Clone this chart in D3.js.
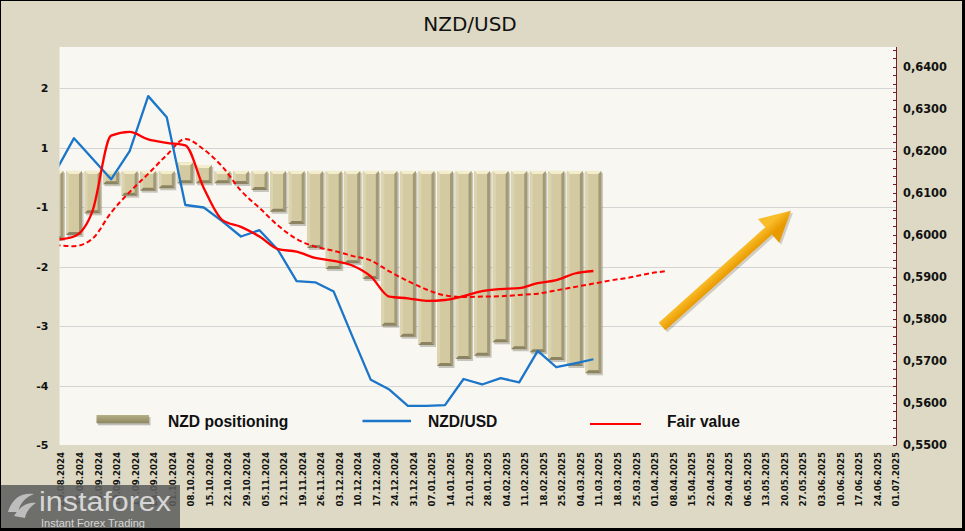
<!DOCTYPE html>
<html>
<head>
<meta charset="utf-8">
<script src="https://cdn.jsdelivr.net/npm/d3@7"></script>
<style>
  html, body { margin: 0; padding: 0; background: #DDD9C4; }
  svg { display: block; }
</style>
</head>
<body>
<svg id="chart" width="965" height="531"></svg>
<script>
// ---------------- DATA ----------------
const dates = [
  "20.08.2024","27.08.2024","03.09.2024","10.09.2024","17.09.2024","24.09.2024","01.10.2024",
  "08.10.2024","15.10.2024","22.10.2024","29.10.2024","05.11.2024","12.11.2024","19.11.2024",
  "26.11.2024","03.12.2024","10.12.2024","17.12.2024","24.12.2024","31.12.2024","07.01.2025",
  "14.01.2025","21.01.2025","28.01.2025","04.02.2025","11.02.2025","18.02.2025","25.02.2025",
  "04.03.2025","11.03.2025","18.03.2025","25.03.2025","01.04.2025","08.04.2025","15.04.2025",
  "22.04.2025","29.04.2025","06.05.2025","13.05.2025","20.05.2025","27.05.2025","03.06.2025",
  "10.06.2025","17.06.2025","24.06.2025","01.07.2025"
];

// NZD positioning bars (left axis): bottom and top of each bar
const positioningLow = [-1.035,-0.968,-0.603,-0.113,-0.307,-0.222,-0.182,-0.098,-0.098,-0.098,
  -0.110,-0.210,-0.576,-0.783,-1.186,-1.540,-1.444,-1.708,-2.493,-2.678,
  -2.818,-3.171,-3.053,-2.998,-2.773,-2.890,-2.940,-3.070,-3.171,-3.294];
const positioningHigh = [0.11,0.11,0.11,0.11,0.11,0.11,0.11,0.257,0.21,0.11,
  0.11,0.11,0.11,0.11,0.11,0.11,0.11,0.11,0.11,0.11,
  0.11,0.11,0.11,0.11,0.11,0.11,0.11,0.11,0.11,0.11];

// NZD/USD (right axis)
const nzdusd = [0.6150,0.6230,0.6181,0.6132,0.6199,0.6330,0.6280,0.6071,0.6065,0.6032,
  0.5996,0.6011,0.5964,0.5890,0.5887,0.5865,0.5759,0.5655,0.5632,0.5593,
  0.5593,0.5595,0.5657,0.5644,0.5659,0.5649,0.5724,0.5685,0.5694,0.5704];

// Fair value (right axis)
const fairValue = [0.5988,0.5996,0.6057,0.6236,0.6245,0.6227,0.6219,0.6213,0.6111,0.6035,
  0.6019,0.5996,0.5966,0.5960,0.5945,0.5938,0.5927,0.5901,0.5853,0.5849,
  0.5843,0.5845,0.5854,0.5866,0.5871,0.5873,0.5885,0.5892,0.5908,0.5914];

// Fair value trend, dashed (right axis)
const fairTrend = [0.5976,0.5973,0.5991,0.6053,0.6102,0.6145,0.6190,0.6228,0.6203,0.6162,
  0.6105,0.6064,0.6022,0.5990,0.5972,0.5962,0.5950,0.5939,0.5913,0.5890,
  0.5870,0.5856,0.5852,0.5853,0.5854,0.5857,0.5860,0.5868,0.5876,0.5884,
  0.5892,0.5899,0.5908,0.5914];

const leftTickValues = [1.5, 0.5, -0.5, -1.5, -2.5, -3.5, -4.5];
const leftTickLabels = ["2","1","-1","-2","-3","-4","-5"];
const rightTickValues = [0.55,0.56,0.57,0.58,0.59,0.60,0.61,0.62,0.63,0.64];
const barBase = 0.11;

// arrow annotation in (category position, right-axis value)
const arrowFrom = {pos: 32.7, val: 0.5782};
const arrowTo   = {pos: 39.65, val: 0.6057};

// ---------------- LAYOUT ----------------
const W = 965, H = 531;
const plot = {left: 59.5, right: 896, top: 47, bottom: 445};

const svg = d3.select("#chart");
const defs = svg.append("defs");

// background
svg.append("rect").attr("x",0).attr("y",0).attr("width",W).attr("height",H).attr("fill","#DDD9C4");

// scales
const x = d3.scaleBand().domain(dates).range([46.18, 46.18 + 18.55*dates.length])
  .paddingInner(0.1375).paddingOuter(0.1375/2);
const xc = d => x(d) + x.bandwidth()/2;
const yL = d3.scaleLinear().domain([-4.5, 1.5]).range([445, 88.3]);
const yR = d3.scaleLinear().domain([0.55, 0.64]).range([445, 66.7]);

// plot area
svg.append("rect").attr("x",plot.left).attr("y",plot.top)
  .attr("width",plot.right-plot.left).attr("height",plot.bottom-plot.top).attr("fill","#F8F7F2");

defs.append("clipPath").attr("id","plotClip").append("rect")
  .attr("x",plot.left).attr("y",plot.top).attr("width",plot.right-plot.left).attr("height",plot.bottom-plot.top);

// gridlines (left axis)
svg.append("g").selectAll("line").data(leftTickValues.slice(0,-1)).join("line")
  .attr("x1",plot.left).attr("x2",plot.right)
  .attr("y1",d=>Math.round(yL(d))+0.5).attr("y2",d=>Math.round(yL(d))+0.5)
  .attr("stroke","#D4D4D4").attr("stroke-width",1);

// title
svg.append("text").attr("x",470).attr("y",31).attr("text-anchor","middle")
  .attr("font-family","DejaVu Sans, Verdana, sans-serif").attr("font-size",20).attr("fill","#111")
  .text("NZD/USD");

// left axis labels
svg.append("g").selectAll("text").data(leftTickValues).join("text")
  .attr("x",48.5).attr("y",d=>yL(d)).attr("dy","0.36em").attr("text-anchor","end")
  .attr("font-family","DejaVu Sans, Verdana, sans-serif").attr("font-weight","bold").attr("font-size",11)
  .attr("fill","#111").text((d,i)=>leftTickLabels[i]);

// right axis
const rAxis = svg.append("g");
rAxis.append("line").attr("x1",plot.right+0.5).attr("x2",plot.right+0.5)
  .attr("y1",plot.top).attr("y2",plot.bottom).attr("stroke","#7A1F1F").attr("stroke-width",1);
const minorTicks = d3.range(0, 48).map(k => 0.55 + k*0.002).filter(v => yR(v) >= plot.top - 0.5);
rAxis.selectAll("line.tk").data(minorTicks).join("line").attr("class","tk")
  .attr("x1",plot.right-3).attr("x2",plot.right+0.5)
  .attr("y1",d=>Math.round(yR(d))+0.5).attr("y2",d=>Math.round(yR(d))+0.5)
  .attr("stroke","#7A1F1F").attr("stroke-width",1);
rAxis.selectAll("text").data(rightTickValues).join("text")
  .attr("x",903).attr("y",d=>yR(d)).attr("dy","0.36em")
  .attr("font-family","DejaVu Sans, Verdana, sans-serif").attr("font-weight","bold").attr("font-size",11.4)
  .attr("fill","#111").text(d=>d3.format(".4f")(d).replace(".",","));

// x axis labels
svg.append("g").selectAll("text").data(dates).join("text")
  .attr("transform",d=>`translate(${xc(d)+6},452) rotate(-90)`)
  .attr("dy","0.35em").attr("text-anchor","end")
  .attr("font-family","DejaVu Sans, Verdana, sans-serif").attr("font-weight","bold").attr("font-size",8.6)
  .attr("fill","#111").text(d=>d);

// ---------------- BARS ----------------
const gPlot = svg.append("g").attr("clip-path","url(#plotClip)");
const bw = x.bandwidth();
const barData = positioningLow.map((v,i)=>({d:dates[i], low:v, high:positioningHigh[i]}));
const bevel = 3;
const gBars = gPlot.append("g");
barData.forEach(b=>{
  const x0 = x(b.d), x1 = x0 + bw;
  const y0 = yL(Math.max(b.high, barBase)), y1 = yL(b.low);
  const g = gBars.append("g");
  g.append("rect").attr("x",x0+1.5).attr("y",y0+2).attr("width",bw).attr("height",y1-y0)
    .attr("fill","rgba(70,65,45,0.28)");
  g.append("rect").attr("x",x0).attr("y",y0).attr("width",bw).attr("height",y1-y0).attr("fill","#D3CAA2");
  const poly = (pts, fill) => g.append("polygon").attr("points",pts.map(p=>p.join(",")).join(" ")).attr("fill",fill);
  poly([[x0,y0],[x1,y0],[x1-bevel,y0+bevel],[x0+bevel,y0+bevel]], "#F3EDCC");
  poly([[x0,y0],[x0+bevel,y0+bevel],[x0+bevel,y1-bevel],[x0,y1]], "#DCD4AF");
  poly([[x1,y0],[x1,y1],[x1-bevel,y1-bevel],[x1-bevel,y0+bevel]], "#A29A76");
  poly([[x0,y1],[x1,y1],[x1-bevel,y1-bevel],[x0+bevel,y1-bevel]], "#8B8362");
});

// ---------------- LINES ----------------
const lineFair = d3.line().x((v,i)=>xc(dates[i])).y(v=>yR(v)).curve(d3.curveMonotoneX);
const lineBlue = d3.line().x((v,i)=>xc(dates[i])).y(v=>yR(v));

gPlot.append("path").datum(fairTrend).attr("d",lineFair).attr("fill","none")
  .attr("stroke","#FF0000").attr("stroke-width",2).attr("stroke-dasharray","5,3");
gPlot.append("path").datum(nzdusd).attr("d",lineBlue).attr("fill","none")
  .attr("stroke","#1B75C9").attr("stroke-width",2.3).attr("stroke-linejoin","round");
gPlot.append("path").datum(fairValue).attr("d",lineFair).attr("fill","none")
  .attr("stroke","#FF0000").attr("stroke-width",2.3);

// ---------------- LEGEND ----------------
const lg = svg.append("g").attr("font-family","Liberation Sans, Arial, sans-serif")
  .attr("font-weight","bold").attr("font-size",15.6).attr("fill","#111");
const lgGrad = defs.append("linearGradient").attr("id","lgGrad").attr("x1",0).attr("y1",0).attr("x2",0).attr("y2",1);
lgGrad.append("stop").attr("offset","0%").attr("stop-color","#B5AE86");
lgGrad.append("stop").attr("offset","100%").attr("stop-color","#8E8862");
lg.append("rect").attr("x",98).attr("y",417).attr("width",52.5).attr("height",8.3).attr("fill","rgba(60,55,40,0.3)");
lg.append("rect").attr("x",96.5).attr("y",415).attr("width",52.5).attr("height",8.3).attr("fill","url(#lgGrad)");
lg.append("text").attr("x",168).attr("y",427).text("NZD positioning");
lg.append("line").attr("x1",362.5).attr("x2",411).attr("y1",421).attr("y2",421)
  .attr("stroke","#1B75C9").attr("stroke-width",2.3);
lg.append("text").attr("x",428).attr("y",427).text("NZD/USD");
lg.append("line").attr("x1",590).attr("x2",641).attr("y1",424).attr("y2",424)
  .attr("stroke","#FF0000").attr("stroke-width",2);
lg.append("text").attr("x",667).attr("y",427).text("Fair value");

// ---------------- ARROW ----------------
const step = x.step();
const ax = p => x.range()[0] + step*(p + 0.5);
const A = [ax(arrowFrom.pos), yR(arrowFrom.val)];
const B = [ax(arrowTo.pos), yR(arrowTo.val)];
const dx = B[0]-A[0], dy = B[1]-A[1], L = Math.hypot(dx,dy);
const ux = dx/L, uy = dy/L, nx = -uy, ny = ux;
const sw = 5, hw = 16, hl = 30;
const Hb = [B[0]-ux*hl, B[1]-uy*hl];
const arrowPts = [
  [A[0]+nx*sw, A[1]+ny*sw], [Hb[0]+nx*sw, Hb[1]+ny*sw], [Hb[0]+nx*hw, Hb[1]+ny*hw],
  B, [Hb[0]-nx*hw, Hb[1]-ny*hw], [Hb[0]-nx*sw, Hb[1]-ny*sw], [A[0]-nx*sw, A[1]-ny*sw]
];
const arrGrad = defs.append("linearGradient").attr("id","arrGrad")
  .attr("gradientUnits","userSpaceOnUse")
  .attr("x1",A[0]-nx*sw).attr("y1",A[1]-ny*sw).attr("x2",A[0]+nx*sw).attr("y2",A[1]+ny*sw);
arrGrad.append("stop").attr("offset","0%").attr("stop-color","#F9BC2A");
arrGrad.append("stop").attr("offset","100%").attr("stop-color","#E99A00");
svg.append("polygon").attr("points",arrowPts.map(p=>[p[0]+2,p[1]+2].join(",")).join(" "))
  .attr("fill","rgba(90,80,50,0.25)");
svg.append("polygon").attr("points",arrowPts.map(p=>p.join(",")).join(" "))
  .attr("fill","url(#arrGrad)");

// ---------------- LOGO ----------------
const logo = svg.append("g");
logo.append("rect").attr("x",0).attr("y",485).attr("width",180).attr("height",43).attr("fill","rgba(95,95,95,0.88)");
logo.append("path").attr("d","M8,512 C12,498 22,492 34,494 C26,497 20,503 18,512 Z M14,516 C20,506 28,502 36,503 C30,507 26,512 25,518 Z")
  .attr("fill","#BDBDBD");
logo.append("text").attr("x",39).attr("y",511).attr("font-family","Liberation Sans, Arial, sans-serif")
  .attr("font-size",27).attr("textLength",132).attr("lengthAdjust","spacingAndGlyphs")
  .attr("fill","#D6D6D6").text("instaforex");
logo.append("text").attr("x",41).attr("y",527).attr("font-family","Liberation Sans, Arial, sans-serif")
  .attr("font-size",11).attr("fill","#D6D6D6").text("Instant Forex Trading");

// ---------------- FRAME ----------------
svg.append("rect").attr("x",0.5).attr("y",0.5).attr("width",W-1).attr("height",H-1)
  .attr("fill","none").attr("stroke","#000").attr("stroke-width",1);
svg.append("line").attr("x1",963.5).attr("x2",963.5).attr("y1",0).attr("y2",H).attr("stroke","#000").attr("stroke-width",3);
svg.append("line").attr("x1",0).attr("x2",W).attr("y1",529.5).attr("y2",529.5).attr("stroke","#000").attr("stroke-width",3);
</script>
</body>
</html>
